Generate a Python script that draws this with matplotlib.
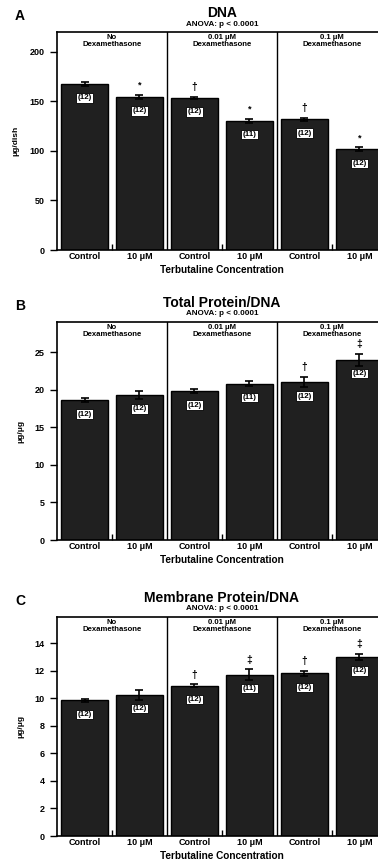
import numpy as np
import matplotlib
matplotlib.use('Agg')
import matplotlib.pyplot as plt

plt.rcParams['font.family'] = ['Liberation Sans', 'DejaVu Sans']
plt.rcParams['font.weight'] = 'bold'

# bar order: no dex (control, 10 uM), 0.01 uM dex (control, 10 uM), 0.1 uM dex (control, 10 uM)
tick_labels = ['Control', '10 \u03bcM'] * 3
group_labels = ['No\nDexamethasone', '0.01 \u03bcM\nDexamethasone', '0.1 \u03bcM\nDexamethasone']

dna_vals = [167.5, 154.5, 153.3, 130.5, 132.0, 101.5]
dna_err = [2.0, 1.7, 1.0, 2.0, 1.5, 2.0]
dna_n = ['(12)', '(12)', '(12)', '(11)', '(12)', '(12)']
dna_sym = ['', '*', '\u2020', '*', '\u2020', '*']

prot_vals = [18.6, 19.3, 19.8, 20.8, 21.0, 24.0]
prot_err = [0.3, 0.5, 0.3, 0.3, 0.7, 0.8]
prot_n = ['(12)', '(12)', '(12)', '(11)', '(12)', '(12)']
prot_sym = ['', '', '', '', '\u2020', '\u2021']

mem_vals = [9.85, 10.25, 10.9, 11.7, 11.8, 13.0]
mem_err = [0.1, 0.35, 0.1, 0.4, 0.2, 0.25]
mem_n = ['(12)', '(12)', '(12)', '(11)', '(12)', '(12)']
mem_sym = ['', '', '\u2020', '\u2021', '\u2020', '\u2021']

panels = [
    dict(letter='A', title='DNA', ylabel='\u03bcg/dish', vals=dna_vals, err=dna_err,
         n=dna_n, sym=dna_sym, ylim=220, yticks=[0, 50, 100, 150, 200], bottom=615, top=833),
    dict(letter='B', title='Total Protein/DNA', ylabel='\u03bcg/\u03bcg', vals=prot_vals, err=prot_err,
         n=prot_n, sym=prot_sym, ylim=29, yticks=[0, 5, 10, 15, 20, 25], bottom=325, top=543),
    dict(letter='C', title='Membrane Protein/DNA', ylabel='\u03bcg/\u03bcg', vals=mem_vals, err=mem_err,
         n=mem_n, sym=mem_sym, ylim=15.9, yticks=[0, 2, 4, 6, 8, 10, 12, 14], bottom=29, top=248),
]

W, H = 378, 865
fig = plt.figure(figsize=(W / 100, H / 100), dpi=100)

x = np.arange(6) + 0.5

for p in panels:
    left = 57 / W
    bottom = p['bottom'] / H
    height = (p['top'] - p['bottom']) / H
    ax = fig.add_axes([left, bottom, 330 / W, height])

    ax.bar(x, p['vals'], width=0.84, color='#202020', edgecolor='black', linewidth=1)
    ax.errorbar(x, p['vals'], yerr=p['err'], fmt='none', ecolor='black',
                elinewidth=1.2, capsize=3, capthick=1.2)

    for xi, v, e, n, s in zip(x, p['vals'], p['err'], p['n'], p['sym']):
        ax.annotate(n, xy=(xi, v), xytext=(0, -10), textcoords='offset points',
                    ha='center', va='center', fontsize=5.8, fontweight='bold',
                    bbox=dict(boxstyle='square,pad=0.15', fc='white', ec='black', lw=0.6))
        if s:
            ax.annotate(s, xy=(xi, v + e), xytext=(0, 7), textcoords='offset points',
                        ha='center', va='center', fontsize=7.5 if s != '*' else 6.5,
                        fontweight='bold')

    for g in (2, 4):
        ax.axvline(g, color='black', lw=1)
    for g, lab in zip((1, 3, 5), group_labels):
        ax.text(g, p['ylim'] * 0.99, lab, ha='center', va='top', fontsize=5.6,
                fontweight='bold', linespacing=1.05)

    ax.set_xlim(0, 6)
    ax.set_ylim(0, p['ylim'])
    ax.set_yticks(p['yticks'])
    ax.set_xticks(x)
    ax.set_xticklabels(tick_labels, fontsize=6.5, fontweight='bold')
    ax.set_xticks([1, 3, 5], minor=True)
    ax.tick_params(axis='x', which='major', length=0, pad=1.5)
    ax.tick_params(axis='x', which='minor', direction='in', length=4, width=1)
    ax.tick_params(axis='y', direction='out', length=5, width=1, labelsize=6.5, pad=4)
    for lab in ax.get_yticklabels():
        lab.set_fontweight('bold')
    for side in ('left', 'top', 'bottom', 'right'):
        ax.spines[side].set_linewidth(1.2)

    ax.set_xlabel('Terbutaline Concentration', fontsize=7.2, fontweight='bold', labelpad=3)
    ax.set_ylabel(p['ylabel'], fontsize=6, fontweight='bold', labelpad=7)

    top_px = H - p['top']
    fig.text(222 / W, 1 - (top_px - 19) / H, p['title'], ha='center', va='center',
             fontsize=10, fontweight='bold')
    fig.text(222 / W, 1 - (top_px - 8) / H, 'ANOVA: p < 0.0001', ha='center', va='center',
             fontsize=5.8, fontweight='bold')
    fig.text(20 / W, 1 - (top_px - 16) / H, p['letter'], ha='center', va='center',
             fontsize=10, fontweight='bold')

fig.savefig('out.png', dpi=100)
